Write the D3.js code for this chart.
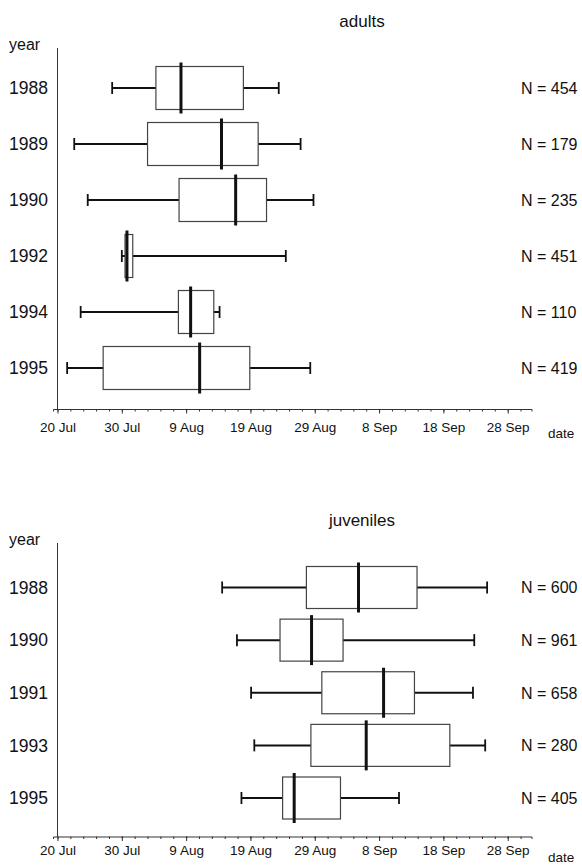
<!DOCTYPE html>
<html>
<head>
<meta charset="utf-8">
<script src="https://cdn.jsdelivr.net/npm/d3@7"></script>
<style>
  body { margin: 0; background: #fff; }
  text { font-family: Arial, "Liberation Sans", sans-serif; fill: #111; }
</style>
</head>
<body>
<div id="chart"></div>
<script>
"use strict"

/* days after 20 Jul for every value */
const tickDays = [0, 10, 20, 30, 40, 50, 60, 70];
const tickLabels = ["20 Jul", "30 Jul", "9 Aug", "19 Aug", "29 Aug", "8 Sep", "18 Sep", "28 Sep"];

/* adults */
const adultYears = ["1988", "1989", "1990", "1992", "1994", "1995"];
const adultN = [454, 179, 235, 451, 110, 419];
const adultLow = [8.5, 2.6, 4.7, 10.0, 3.6, 1.5];
const adultQ1 = [15.3, 14.0, 18.9, 10.5, 18.8, 7.1];
const adultMedian = [19.2, 25.5, 27.7, 10.8, 20.7, 22.1];
const adultQ3 = [28.9, 31.2, 32.5, 11.7, 24.3, 29.9];
const adultHigh = [34.4, 37.8, 39.8, 35.5, 25.2, 39.3];

/* juveniles */
const juvYears = ["1988", "1990", "1991", "1993", "1995"];
const juvN = [600, 961, 658, 280, 405];
const juvLow = [25.6, 27.9, 30.1, 30.6, 28.6];
const juvQ1 = [38.7, 34.6, 41.1, 39.4, 35.0];
const juvMedian = [46.8, 39.5, 50.7, 48.0, 36.8];
const juvQ3 = [55.9, 44.4, 55.5, 61.0, 44.0];
const juvHigh = [66.8, 64.8, 64.6, 66.5, 53.1];

let drawing = d3.select("#chart")
    .append("svg")
    .attr("width", 582)
    .attr("height", 866);

/* shared date scale, both panels use the same one */
let x = d3.scaleLinear()
    .domain([-0.7, 73.7])
    .range([53, 531.5]);

function drawPanel(p) {
    let y = d3.scalePoint()
        .domain(p.years)
        .range([p.firstRow, p.lastRow]);

    let g = drawing.append("g");

    /* title */
    g.append("text")
        .attr("x", p.titleX)
        .attr("y", p.titleY)
        .attr("text-anchor", "middle")
        .style("font-size", "17px")
        .text(p.title);

    g.append("text")
        .attr("x", 9)
        .attr("y", p.yearLabelY)
        .style("font-size", "16px")
        .text("year");

    /* y axis line */
    g.append("line")
        .attr("x1", x(0))
        .attr("x2", x(0))
        .attr("y1", p.axisTop)
        .attr("y2", p.axisY)
        .attr("stroke", "#333")
        .attr("stroke-width", 1);

    /* minor ticks every 2 days */
    g.append("g")
        .attr("transform", "translate(0," + p.axisY + ")")
        .call(d3.axisBottom(x).tickValues(d3.range(0, 74, 2)).tickSize(2.5).tickFormat(""))
        .call(a => a.selectAll("line").attr("stroke", "#333"))
        .call(a => a.select(".domain").attr("stroke", "#333"));

    /* major ticks */
    let xAxis = g.append("g")
        .attr("transform", "translate(0," + p.axisY + ")")
        .call(d3.axisBottom(x)
            .tickValues(tickDays)
            .tickSize(4.5)
            .tickSizeOuter(0)
            .tickFormat((d, i) => tickLabels[i]));
    xAxis.select(".domain").remove();
    xAxis.selectAll("line").attr("stroke", "#333");
    xAxis.selectAll("text")
        .attr("y", p.tickLabelDy)
        .attr("dy", 0)
        .style("font-size", "13.5px")
        .style("font-family", "Arial, 'Liberation Sans', sans-serif")
        .attr("fill", "#111");

    g.append("text")
        .attr("x", 548)
        .attr("y", p.axisY + p.dateDy)
        .style("font-size", "13.5px")
        .text("date");

    /* year labels */
    g.selectAll(".yr")
        .data(p.years)
        .join("text")
        .attr("class", "yr")
        .attr("x", 48)
        .attr("y", d => y(d))
        .attr("dy", "0.36em")
        .attr("text-anchor", "end")
        .style("font-size", "17.5px")
        .text(d => d);

    /* N labels */
    g.selectAll(".nlab")
        .data(p.n)
        .join("text")
        .attr("class", "nlab")
        .attr("x", 521)
        .attr("y", (d, i) => y(p.years[i]))
        .attr("dy", "0.36em")
        .style("font-size", "16px")
        .text(d => "N = " + d);

    let rows = p.years.map((yr, i) => ({
        yr: yr, low: p.low[i], q1: p.q1[i], med: p.med[i], q3: p.q3[i], high: p.high[i]
    }));

    let half = p.boxH / 2;

    /* whiskers */
    g.selectAll(".wl")
        .data(rows)
        .join("line")
        .attr("x1", d => x(d.low))
        .attr("x2", d => x(d.q1))
        .attr("y1", d => y(d.yr))
        .attr("y2", d => y(d.yr))
        .attr("stroke", "#111")
        .attr("stroke-width", 2);

    g.selectAll(".wr")
        .data(rows)
        .join("line")
        .attr("x1", d => x(d.q3))
        .attr("x2", d => x(d.high))
        .attr("y1", d => y(d.yr))
        .attr("y2", d => y(d.yr))
        .attr("stroke", "#111")
        .attr("stroke-width", 2);

    /* whisker caps */
    rows.forEach(d => {
        [d.low, d.high].forEach(v => {
            g.append("line")
                .attr("x1", x(v))
                .attr("x2", x(v))
                .attr("y1", y(d.yr) - 6)
                .attr("y2", y(d.yr) + 6)
                .attr("stroke", "#111")
                .attr("stroke-width", 1.8);
        });
    });

    /* boxes */
    g.selectAll(".box")
        .data(rows)
        .join("rect")
        .attr("x", d => x(d.q1))
        .attr("y", d => y(d.yr) - half)
        .attr("width", d => x(d.q3) - x(d.q1))
        .attr("height", p.boxH)
        .attr("fill", "none")
        .attr("stroke", "#444")
        .attr("stroke-width", 1.2);

    /* medians */
    g.selectAll(".med")
        .data(rows)
        .join("line")
        .attr("x1", d => x(d.med))
        .attr("x2", d => x(d.med))
        .attr("y1", d => y(d.yr) - half - 4)
        .attr("y2", d => y(d.yr) + half + 4)
        .attr("stroke", "#111")
        .attr("stroke-width", 3);
}

drawPanel({
    title: "adults", titleX: 362, titleY: 27,
    yearLabelY: 50, axisTop: 48, axisY: 409,
    tickLabelDy: 22.5, dateDy: 29,
    firstRow: 88, lastRow: 368, boxH: 43,
    years: adultYears, n: adultN,
    low: adultLow, q1: adultQ1, med: adultMedian, q3: adultQ3, high: adultHigh
});

drawPanel({
    title: "juveniles", titleX: 362, titleY: 526,
    yearLabelY: 545, axisTop: 543, axisY: 836.5,
    tickLabelDy: 18.5, dateDy: 25.5,
    firstRow: 587.5, lastRow: 798, boxH: 42,
    years: juvYears, n: juvN,
    low: juvLow, q1: juvQ1, med: juvMedian, q3: juvQ3, high: juvHigh
});
</script>
</body>
</html>
